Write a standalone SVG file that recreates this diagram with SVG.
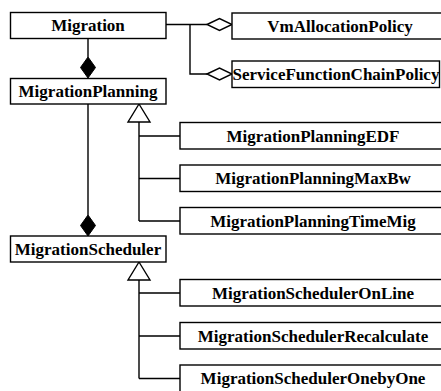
<svg xmlns="http://www.w3.org/2000/svg" width="441" height="391" viewBox="0 0 441 391">
  <defs>
    <style>
      .box { fill: #ffffff; stroke: #000000; stroke-width: 1.4; }
      .lbl { font-family: "Liberation Serif", "Times New Roman", serif; font-weight: 700; font-size: 17px; fill: #000000; text-anchor: middle; }
      .wire { fill: none; stroke: #000000; stroke-width: 1.4; }
      .agg { fill: #ffffff; stroke: #000000; stroke-width: 1.4; }
      .comp { fill: #000000; stroke: #000000; stroke-width: 1; }
      .gen { fill: #ffffff; stroke: #000000; stroke-width: 1.4; }
    </style>
  </defs>
  <rect width="441" height="391" fill="#ffffff"/>

  <!-- connectors -->
  <g id="connectors">
    <!-- Migration aggregates the two policies -->
    <path class="wire" d="M166 24.5 H207 M190 24.5 V74 H207"/>
    <polygon class="agg" points="207,24.5 219.5,18.5 232,24.5 219.5,30.5"/>
    <polygon class="agg" points="207,74 219.5,68 232,74 219.5,80"/>
    <!-- compositions along the left column -->
    <path class="wire" d="M88 38 V57 M88 104 V215"/>
    <polygon class="comp" points="88,57 95.5,67.5 88,78 80.5,67.5"/>
    <polygon class="comp" points="88,215 95.5,225.5 88,236 80.5,225.5"/>
    <!-- MigrationPlanning generalisations -->
    <polygon class="gen" points="139,104 150,122 128,122"/>
    <path class="wire" d="M139 122 V221 M139 136 H180 M139 178.5 H180 M139 221 H180"/>
    <!-- MigrationScheduler generalisations -->
    <polygon class="gen" points="139,262 150,280 128,280"/>
    <path class="wire" d="M139 280 V378.5 M139 293 H180 M139 336 H180 M139 378.5 H180"/>
  </g>

  <g id="Migration">
    <rect class="box" x="10.5" y="12.5" width="155.5" height="26"/>
    <text class="lbl" x="88" y="31">Migration</text>
  </g>
  <g id="VmAllocationPolicy">
    <rect class="box" x="232" y="13" width="216" height="26"/>
    <text class="lbl" x="340" y="31.5">VmAllocationPolicy</text>
  </g>
  <g id="ServiceFunctionChainPolicy">
    <rect class="box" x="232" y="61" width="207.5" height="26.5"/>
    <text class="lbl" x="336" y="80">ServiceFunctionChainPolicy</text>
  </g>
  <g id="MigrationPlanning">
    <rect class="box" x="10.5" y="78.5" width="155.5" height="25.5"/>
    <text class="lbl" x="88" y="97">MigrationPlanning</text>
  </g>
  <g id="MigrationPlanningEDF">
    <rect class="box" x="180" y="122.5" width="266" height="26.5"/>
    <text class="lbl" x="313" y="141.5">MigrationPlanningEDF</text>
  </g>
  <g id="MigrationPlanningMaxBw">
    <rect class="box" x="180" y="165" width="266" height="26.5"/>
    <text class="lbl" x="313" y="184">MigrationPlanningMaxBw</text>
  </g>
  <g id="MigrationPlanningTimeMig">
    <rect class="box" x="180" y="207.5" width="266" height="26.5"/>
    <text class="lbl" x="313" y="226.5">MigrationPlanningTimeMig</text>
  </g>
  <g id="MigrationScheduler">
    <rect class="box" x="10.5" y="236" width="155.5" height="26"/>
    <text class="lbl" x="88" y="254.5">MigrationScheduler</text>
  </g>
  <g id="MigrationSchedulerOnLine">
    <rect class="box" x="180" y="279.5" width="266" height="26.5"/>
    <text class="lbl" x="313" y="298.5">MigrationSchedulerOnLine</text>
  </g>
  <g id="MigrationSchedulerRecalculate">
    <rect class="box" x="180" y="322.5" width="266" height="26.5"/>
    <text class="lbl" x="313" y="341.5">MigrationSchedulerRecalculate</text>
  </g>
  <g id="MigrationSchedulerOnebyOne">
    <rect class="box" x="180" y="365" width="266" height="30"/>
    <text class="lbl" x="313" y="384">MigrationSchedulerOnebyOne</text>
  </g>
</svg>
